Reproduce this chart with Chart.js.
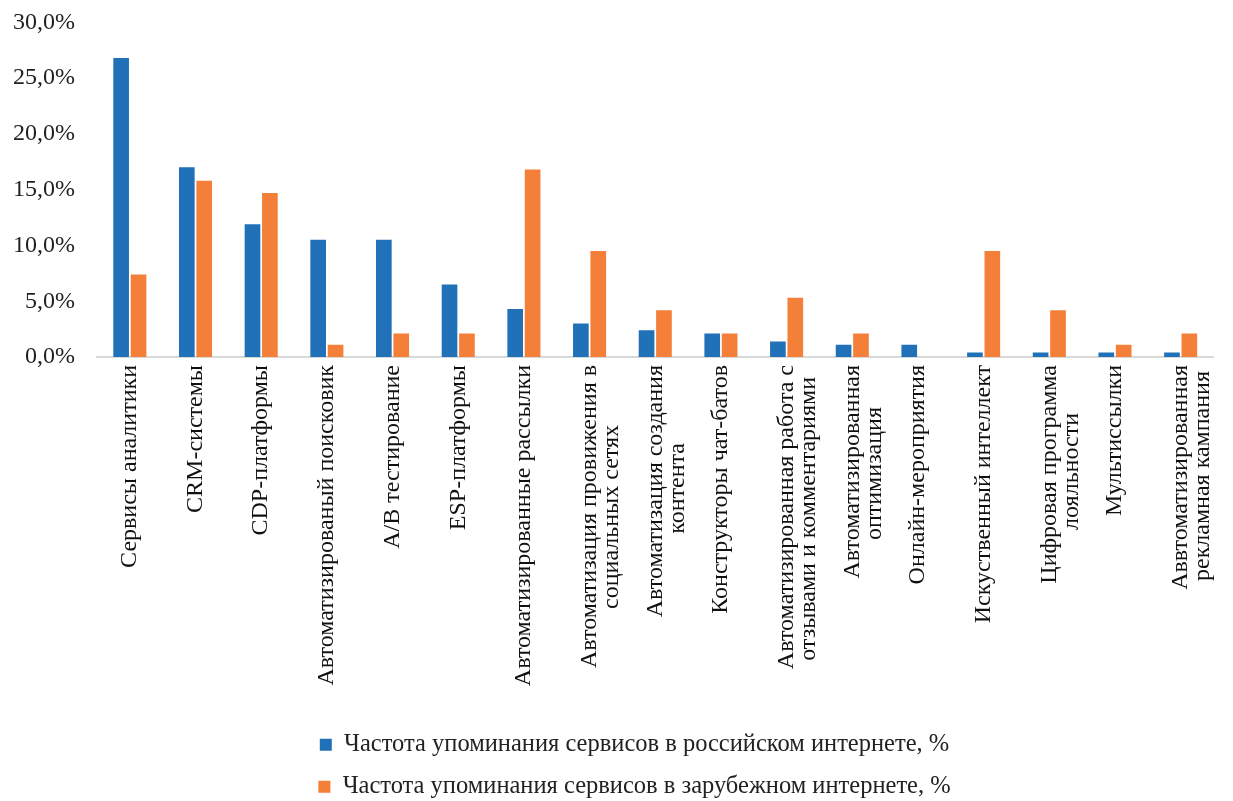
<!DOCTYPE html>
<html>
<head>
<meta charset="utf-8">
<script src="https://cdn.jsdelivr.net/npm/chart.js@4/dist/chart.umd.min.js"></script>
<style>
  html, body { margin: 0; padding: 0; background: #fff; }
  #wrap { width: 1233px; height: 801px; }
</style>
</head>
<body>
<div id="wrap"><canvas id="chart"></canvas></div>
<script>
// categories (multi-line where the original wraps)
const categories = [
    ['Сервисы аналитики'],
    ['CRM-системы'],
    ['CDP-платформы'],
    ['Автоматизированый поисковик'],
    ['А/В тестирование'],
    ['ESP-платформы'],
    ['Автоматизированные рассылки'],
    ['Автоматизация провижения в', 'социальных сетях'],
    ['Автоматизация создания', 'контента'],
    ['Конструкторы чат-батов'],
    ['Автоматизированная работа с', 'отзывами и комментариями'],
    ['Автоматизированная', 'оптимизация'],
    ['Онлайн-мероприятия'],
    ['Искуственный интеллект'],
    ['Цифровая программа', 'лояльности'],
    ['Мультиссылки'],
    ['Аввтоматизированная', 'рекламная кампания']
];

const russianNet = [26.8, 17.0, 11.9, 10.5, 10.5, 6.5, 4.3, 3.0, 2.4, 2.1, 1.4, 1.1, 1.1, 0.4, 0.4, 0.4, 0.4];
const foreignNet = [7.4, 15.8, 14.7, 1.1, 2.1, 2.1, 16.8, 9.5, 4.2, 2.1, 5.3, 2.1, 0, 9.5, 4.2, 1.1, 2.1];

const seriesNames = [
    'Частота упоминания сервисов в российском интернете, %',
    'Частота упоминания сервисов в зарубежном интернете, %'
];

const yTicks = [0, 5, 10, 15, 20, 25, 30];

const FONT = "'Liberation Serif', 'Times New Roman', serif";
const labelFontSize = 24;

// Excel centres wrapped lines on each other; pad short lines so they sit centred
function centreLines(lines) {
    if (lines.length < 2) return lines[0];
    const c = document.createElement('canvas').getContext('2d');
    c.font = labelFontSize + 'px ' + FONT;
    const w0 = c.measureText(lines[0]).width;
    const sp = c.measureText('\u00A0').width;
    return lines.map(l => {
        const pad = Math.round((w0 - c.measureText(l).width) / 2 / sp);
        return pad > 0 ? l + '\u00A0'.repeat(pad) : l;
    });
}

const fmt = v => v.toFixed(1).replace('.', ',') + '%';

// legend in the original sits a little right of centre
const legendShift = {
    id: 'legendShift',
    afterLayout(chart) {
        chart.legend.left += 21;
        chart.legend.right += 21;
    }
};

new Chart(document.getElementById('chart'), {
    type: 'bar',
    data: {
        labels: categories.map(centreLines),
        datasets: [{
            label: seriesNames[0],
            data: russianNet,
            backgroundColor: '#2171b8',
            categoryPercentage: 0.53,
            barPercentage: 0.9
        }, {
            label: seriesNames[1],
            data: foreignNet,
            backgroundColor: '#f47f38',
            categoryPercentage: 0.53,
            barPercentage: 0.9
        }]
    },
    plugins: [legendShift],
    options: {
        animation: false,
        responsive: true,
        maintainAspectRatio: false,
        layout: { padding: { top: 0, right: 6, left: 0, bottom: -8 } },
        plugins: {
            tooltip: { enabled: false },
            legend: {
                position: 'bottom',
                labels: {
                    font: { family: FONT, size: 24.5 },
                    color: '#222',
                    boxWidth: 12,
                    boxHeight: 12,
                    padding: 17.5
                }
            }
        },
        scales: {
            x: {
                grid: { display: false, drawTicks: false },
                border: { display: true, color: '#d9d9d9', width: 2 },
                ticks: {
                    autoSkip: false,
                    minRotation: 90,
                    maxRotation: 90,
                    padding: 8,
                    color: '#111',
                    font: { family: FONT, size: labelFontSize, lineHeight: 0.92 }
                },
                afterFit: s => { s.height = 358; }
            },
            y: {
                min: 0,
                max: 30,
                afterBuildTicks: s => { s.ticks = yTicks.map(v => ({ value: v })); },
                grid: { display: false, drawTicks: false },
                border: { display: false },
                ticks: {
                    padding: 22,
                    color: '#222',
                    font: { family: FONT, size: 24, lineHeight: 0.02 },
                    callback: v => fmt(v)
                },
                afterFit: s => { s.width = 97; }
            }
        }
    }
});
</script>
</body>
</html>
